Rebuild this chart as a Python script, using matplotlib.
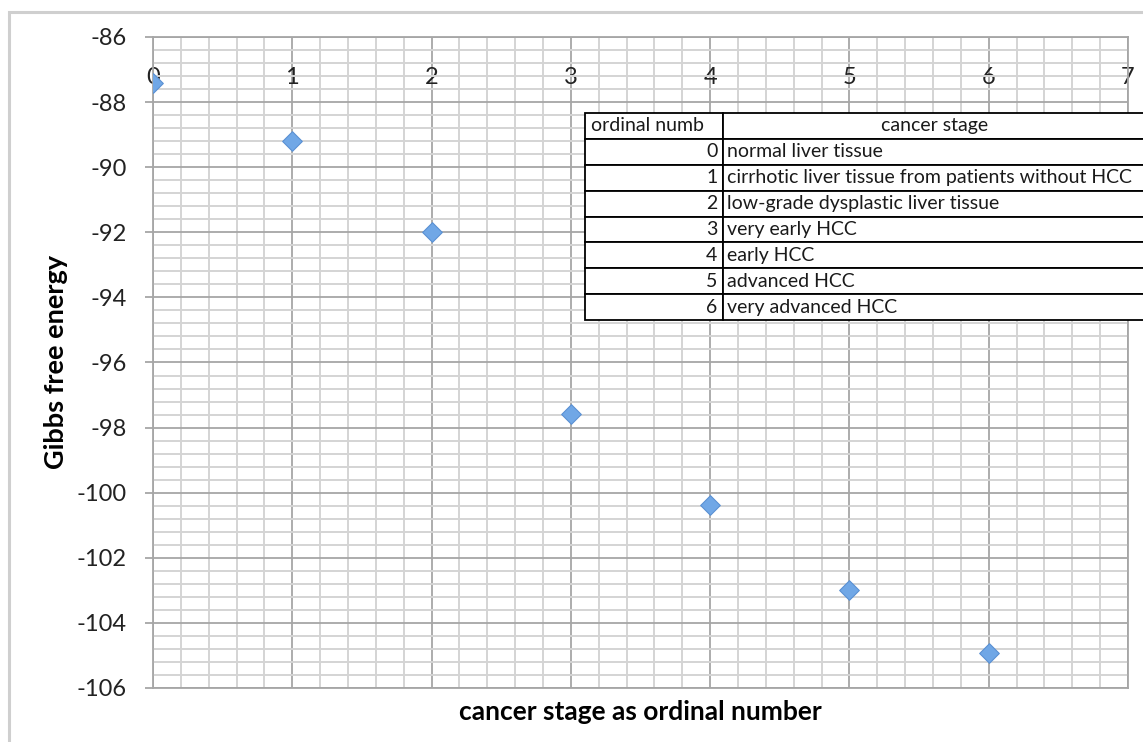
import matplotlib
matplotlib.use('Agg')
import matplotlib.pyplot as plt
from matplotlib.table import Table
from matplotlib.patches import Rectangle
from matplotlib.ticker import MultipleLocator

plt.rcParams['font.family'] = ['Lato', 'DejaVu Sans']
plt.rcParams['axes.unicode_minus'] = False

# ------------------------------------------------------
stage = [0, 1, 2, 3, 4, 5, 6]
gibbs = [-87.42, -89.2, -92.0, -97.57, -100.37, -102.98, -104.92]

table_header = ['ordinal numb', 'cancer stage']
table_stages = ['normal liver tissue',
                'cirrhotic liver tissue from patients without HCC',
                'low-grade dysplastic liver tissue',
                'very early HCC',
                'early HCC',
                'advanced HCC',
                'very advanced HCC']

W, H = 1143, 742
fig = plt.figure(figsize=(W / 100, H / 100), dpi=100)

# outer chart frame (light grey)
fig.patches.append(Rectangle((9 / W, -0.1), 1.2, 1 - 12 / H + 0.1, transform=fig.transFigure,
                             fill=False, edgecolor='#cfcfcf', lw=2.2))

ax = fig.add_axes([153 / W, 1 - 688 / H, (1128 - 153) / W, (688 - 37) / H])

ax.scatter(stage, gibbs, marker='D', s=100, color='#70a7e6', edgecolor='#5b91d3',
           linewidth=0.8, zorder=5)

ax.set_xlim(0, 7)
ax.set_ylim(-106, -86)
ax.xaxis.set_major_locator(MultipleLocator(1))
ax.xaxis.set_minor_locator(MultipleLocator(0.2))
ax.yaxis.set_major_locator(MultipleLocator(2))
ax.yaxis.set_minor_locator(MultipleLocator(0.4))

ax.grid(which='major', color='#a6a6a6', lw=1.3)
ax.grid(which='minor', color='#d4d4d4', lw=1.4)
ax.set_axisbelow(True)
for s in ax.spines.values():
    s.set_color('#a6a6a6')
    s.set_linewidth(1.3)

ax.tick_params(axis='x', which='both', top=True, labeltop=True, bottom=False,
               labelbottom=False, length=0, pad=-37, labelsize=17, labelcolor='#222222')
ax.tick_params(axis='y', which='major', length=6, width=1.3, color='#a6a6a6',
               pad=13, labelsize=17, labelcolor='#222222')
ax.tick_params(axis='y', which='minor', length=0)

ax.xaxis.set_label_position('bottom')
ax.set_xlabel('cancer stage as ordinal number', fontsize=19, fontweight='bold', labelpad=9)
ax.set_ylabel('Gibbs free energy', fontsize=19.5, fontweight='bold', labelpad=6)

# table of stages
tax = fig.add_axes([585 / W, 1 - 320 / H, (1146 - 585) / W, (320 - 113) / H])
tax.axis('off')
tbl = Table(tax, bbox=[0, 0, 1, 1])
w0, w1 = 723 - 585, 1146 - 723
nrows = len(table_stages) + 1
h = 1.0 / nrows
c = tbl.add_cell(0, 0, w0, h, text=table_header[0], loc='left')
c.PAD = 0.04
c = tbl.add_cell(0, 1, w1, h, text=table_header[1], loc='center')
for i, (n, name) in enumerate(zip(stage, table_stages), start=1):
    c = tbl.add_cell(i, 0, w0, h, text=str(n), loc='right')
    c.PAD = 0.04
    c = tbl.add_cell(i, 1, w1, h, text=name, loc='left')
    c.PAD = 0.01
tbl.auto_set_font_size(False)
tbl.set_fontsize(14)
for cell in tbl.get_celld().values():
    cell.set_edgecolor('black')
    cell.set_linewidth(1.3)
    cell.set_facecolor('white')
    cell.get_text().set_color('#1a1a1a')
tax.add_table(tbl)

fig.savefig('out.png', dpi=100)
